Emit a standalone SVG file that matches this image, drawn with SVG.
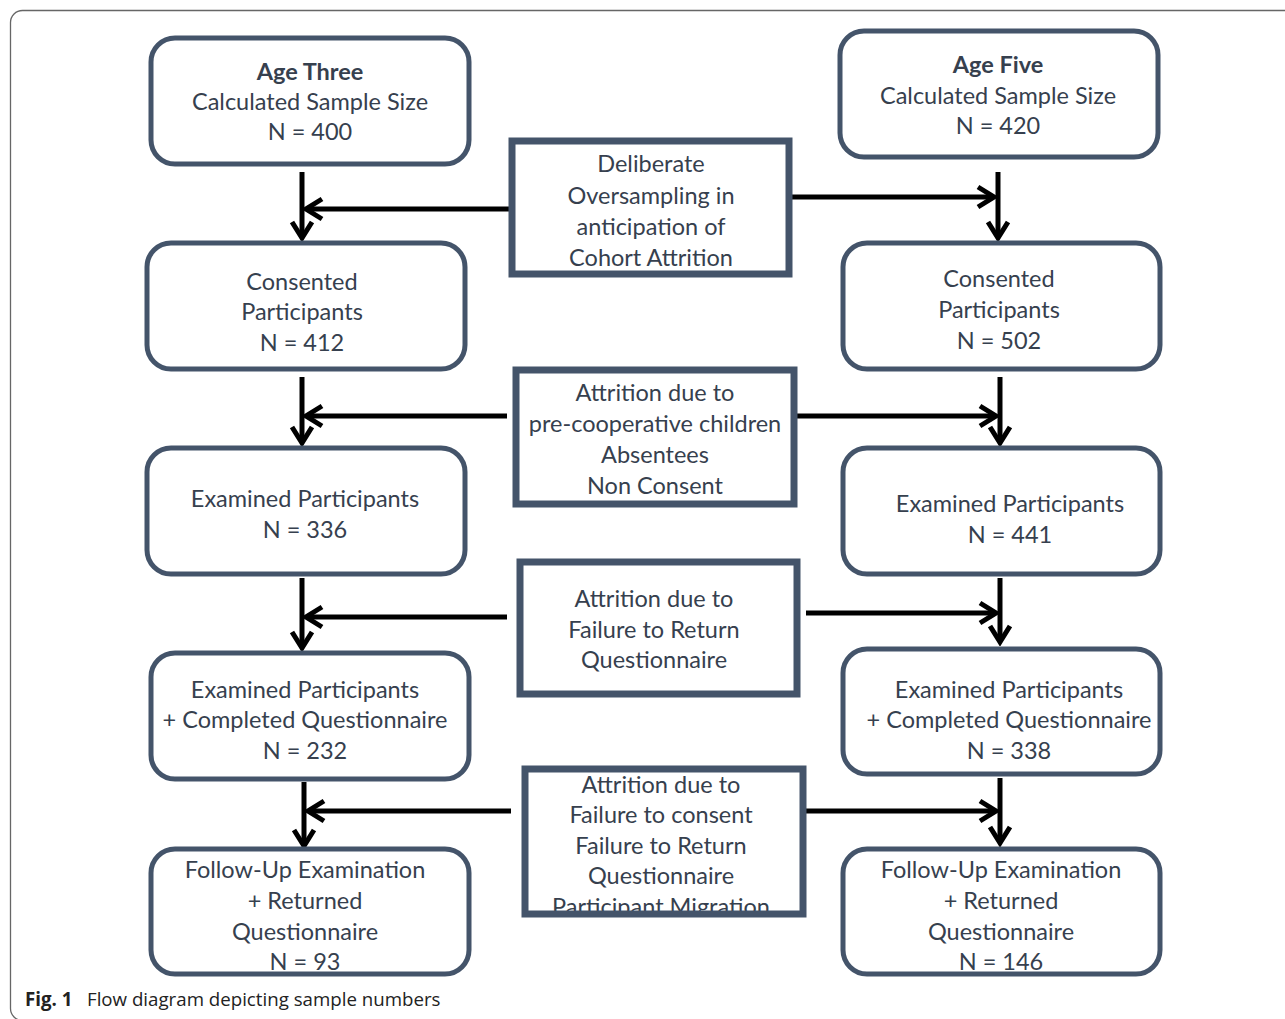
<svg xmlns="http://www.w3.org/2000/svg" width="1285" height="1019" viewBox="0 0 1285 1019">
<style>
.node{fill:#fff;stroke:#44546a;stroke-width:5}
.mid{fill:#fff;stroke:#44546a;stroke-width:7}
.midf{fill:none;stroke:#44546a;stroke-width:7}
.t{font-family:Lato,"Liberation Sans",sans-serif;font-size:23.5px;fill:#36404e;text-anchor:middle}
.b{font-weight:bold}
.c{stroke:#000;stroke-width:5;fill:none}
.cap{font-family:"Open Sans","Liberation Sans",sans-serif;font-size:18.7px;fill:#222}
</style>
<defs>
<marker id="ah" markerUnits="userSpaceOnUse" viewBox="-22 -13 26 26" refX="0" refY="0" markerWidth="26" markerHeight="26" orient="auto">
<path d="M-16,-10 L0,0 L-16,10" fill="none" stroke="#000" stroke-width="5"/>
</marker>
<clipPath id="m4clip"><rect x="525" y="769" width="278" height="143"/></clipPath>
</defs>
<rect x="10.5" y="10.5" width="1300" height="1010" rx="12" fill="#fff" stroke="#666" stroke-width="1.3"/>

<g id="connectors">
<line class="c" x1="302" y1="172" x2="302" y2="238" marker-end="url(#ah)"/>
<line class="c" x1="509" y1="209" x2="306" y2="209" marker-end="url(#ah)"/>
<line class="c" x1="998" y1="172" x2="998" y2="238" marker-end="url(#ah)"/>
<line class="c" x1="792" y1="197" x2="994" y2="197" marker-end="url(#ah)"/>

<line class="c" x1="302" y1="377" x2="302" y2="443" marker-end="url(#ah)"/>
<line class="c" x1="507" y1="416" x2="306" y2="416" marker-end="url(#ah)"/>
<line class="c" x1="1000" y1="377" x2="1000" y2="443" marker-end="url(#ah)"/>
<line class="c" x1="797" y1="416" x2="996" y2="416" marker-end="url(#ah)"/>

<line class="c" x1="302" y1="578" x2="302" y2="648" marker-end="url(#ah)"/>
<line class="c" x1="507" y1="617" x2="306" y2="617" marker-end="url(#ah)"/>
<line class="c" x1="1000" y1="578" x2="1000" y2="642" marker-end="url(#ah)"/>
<line class="c" x1="806" y1="613" x2="996" y2="613" marker-end="url(#ah)"/>

<line class="c" x1="304" y1="782" x2="304" y2="846" marker-end="url(#ah)"/>
<line class="c" x1="511" y1="811" x2="308" y2="811" marker-end="url(#ah)"/>
<line class="c" x1="1000" y1="778" x2="1000" y2="843" marker-end="url(#ah)"/>
<line class="c" x1="806" y1="811" x2="996" y2="811" marker-end="url(#ah)"/>
</g>

<g id="age3-sample">
<rect class="node" x="151" y="38" width="318" height="126" rx="24"/>
<text class="t b" x="310" y="80">Age Three</text>
<text class="t" x="310" y="110">Calculated Sample Size</text>
<text class="t" x="310" y="140">N = 400</text>
</g>
<g id="age5-sample">
<rect class="node" x="840" y="31" width="318" height="126" rx="24"/>
<text class="t b" x="998" y="73">Age Five</text>
<text class="t" x="998" y="104">Calculated Sample Size</text>
<text class="t" x="998" y="134">N = 420</text>
</g>
<g id="oversampling">
<rect class="mid" x="512" y="141" width="277" height="133"/>
<text class="t" x="651" y="172">Deliberate</text>
<text class="t" x="651" y="204">Oversampling in</text>
<text class="t" x="651" y="235">anticipation of</text>
<text class="t" x="651" y="266">Cohort Attrition</text>
</g>

<g id="age3-consented">
<rect class="node" x="147" y="243" width="318" height="126" rx="24"/>
<text class="t" x="302" y="290">Consented</text>
<text class="t" x="302" y="320">Participants</text>
<text class="t" x="302" y="351">N = 412</text>
</g>
<g id="age5-consented">
<rect class="node" x="843" y="243" width="317" height="126" rx="24"/>
<text class="t" x="999" y="287">Consented</text>
<text class="t" x="999" y="318">Participants</text>
<text class="t" x="999" y="349">N = 502</text>
</g>
<g id="attrition1">
<rect class="mid" x="516" y="370" width="278" height="134"/>
<text class="t" x="655" y="401">Attrition due to</text>
<text class="t" x="655" y="432">pre-cooperative children</text>
<text class="t" x="655" y="463">Absentees</text>
<text class="t" x="655" y="494">Non Consent</text>
</g>

<g id="age3-examined">
<rect class="node" x="147" y="448" width="318" height="126" rx="24"/>
<text class="t" x="305" y="507">Examined Participants</text>
<text class="t" x="305" y="538">N = 336</text>
</g>
<g id="age5-examined">
<rect class="node" x="843" y="448" width="317" height="126" rx="24"/>
<text class="t" x="1010" y="512">Examined Participants</text>
<text class="t" x="1010" y="543">N = 441</text>
</g>
<g id="attrition2">
<rect class="mid" x="520" y="562" width="277" height="132"/>
<text class="t" x="654" y="607">Attrition due to</text>
<text class="t" x="654" y="638">Failure to Return</text>
<text class="t" x="654" y="668">Questionnaire</text>
</g>

<g id="age3-questionnaire">
<rect class="node" x="151" y="653" width="318" height="126" rx="24"/>
<text class="t" x="305" y="698">Examined Participants</text>
<text class="t" x="305" y="728">+ Completed Questionnaire</text>
<text class="t" x="305" y="759">N = 232</text>
</g>
<g id="age5-questionnaire">
<rect class="node" x="843" y="649" width="317" height="125" rx="24"/>
<text class="t" x="1009" y="698">Examined Participants</text>
<text class="t" x="1009" y="728">+ Completed Questionnaire</text>
<text class="t" x="1009" y="759">N = 338</text>
</g>
<g id="attrition3">
<rect x="525" y="769" width="278" height="145" fill="#fff"/>
<g clip-path="url(#m4clip)">
<text class="t" x="661" y="793">Attrition due to</text>
<text class="t" x="661" y="823">Failure to consent</text>
<text class="t" x="661" y="854">Failure to Return</text>
<text class="t" x="661" y="884">Questionnaire</text>
<text class="t" x="661" y="915">Participant Migration</text>
</g>
<rect class="midf" x="525" y="769" width="278" height="145"/>
</g>

<g id="age3-followup">
<rect class="node" x="151" y="849" width="318" height="125" rx="24"/>
<text class="t" x="305" y="878">Follow-Up Examination</text>
<text class="t" x="305" y="909">+ Returned</text>
<text class="t" x="305" y="940">Questionnaire</text>
<text class="t" x="305" y="970">N = 93</text>
</g>
<g id="age5-followup">
<rect class="node" x="843" y="849" width="317" height="125" rx="24"/>
<text class="t" x="1001" y="878">Follow-Up Examination</text>
<text class="t" x="1001" y="909">+ Returned</text>
<text class="t" x="1001" y="940">Questionnaire</text>
<text class="t" x="1001" y="970">N = 146</text>
</g>

<text class="cap" x="25" y="1006"><tspan font-weight="bold">Fig. 1</tspan><tspan x="87">Flow diagram depicting sample numbers</tspan></text>
</svg>
